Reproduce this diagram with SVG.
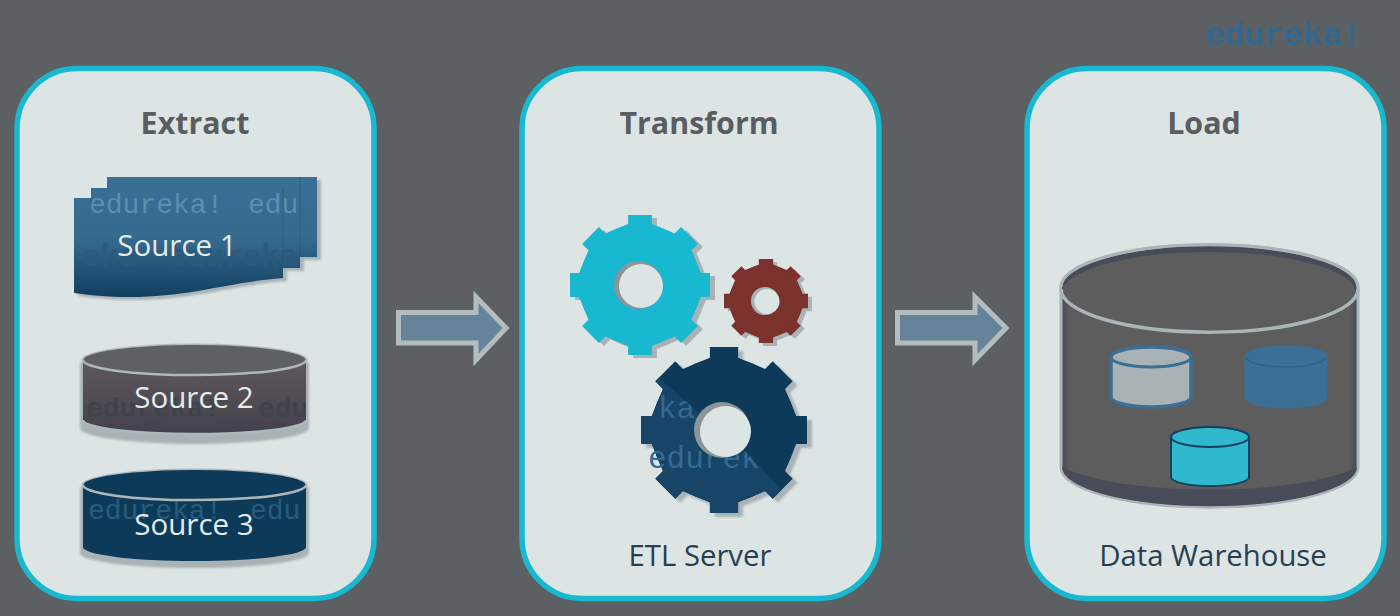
<svg xmlns="http://www.w3.org/2000/svg" width="1400" height="616" viewBox="0 0 1400 616">
<style>
.panel{fill:#dde5e4;stroke:#17b8d0;stroke-width:5.5}
.title{font-family:"Open Sans","Liberation Sans",sans-serif;font-weight:700;font-size:30.4px;fill:#5a5d60;text-anchor:middle}
.src{font-family:"Open Sans","Liberation Sans",sans-serif;font-size:29.5px;fill:#e4ecea;text-anchor:middle}
.cap{font-family:"Open Sans","Liberation Sans",sans-serif;font-size:29.3px;fill:#283f52;text-anchor:middle}
.wm{font-family:"Liberation Mono",monospace;font-size:28px}
.arrow{fill:#668499;stroke:#b3bdbf;stroke-width:5;stroke-linejoin:miter}
.rim{fill:none;stroke:#aeb8ba;stroke-width:2.5}
.shadow{fill:#a9b3b6}
</style>
<defs>
<path id="tooth" d="M-17 -100H17V-87L34 -80H-34L-17 -87Z"/>
<g id="gear">
<circle r="87"/>
<use href="#tooth"/>
<use href="#tooth" transform="rotate(45)"/>
<use href="#tooth" transform="rotate(90)"/>
<use href="#tooth" transform="rotate(135)"/>
<use href="#tooth" transform="rotate(180)"/>
<use href="#tooth" transform="rotate(225)"/>
<use href="#tooth" transform="rotate(270)"/>
<use href="#tooth" transform="rotate(315)"/>
</g>
<linearGradient id="docGrad" x1="0" y1="0" x2="0" y2="1">
<stop offset="0" stop-color="#3a6f96"/><stop offset="0.5" stop-color="#366b90"/><stop offset="1" stop-color="#123f60"/>
</linearGradient>
<linearGradient id="s2Grad" x1="0" y1="0" x2="0" y2="1">
<stop offset="0" stop-color="#5c585b"/><stop offset="0.5" stop-color="#514d53"/><stop offset="1" stop-color="#43404f"/>
</linearGradient>
<linearGradient id="whGrad" x1="0" y1="0" x2="1" y2="0">
<stop offset="0" stop-color="#474a55"/><stop offset="0.03" stop-color="#5d5d5d"/><stop offset="0.97" stop-color="#5d5d5d"/><stop offset="1" stop-color="#474a55"/>
</linearGradient>
<filter id="soft" x="-10%" y="-10%" width="120%" height="120%"><feGaussianBlur stdDeviation="1"/></filter>
<clipPath id="docClip"><path d="M74 198H91V188H107V177H317V257H300V268H283V278C230 282 190 297 130 297C105 297 90 295 74 293Z"/></clipPath>
<clipPath id="s2Clip"><path d="M83 360A111 15 0 0 0 306 360V420A111 14 0 0 1 83 420Z"/></clipPath>
<clipPath id="s3Clip"><path d="M83 485A111 15 0 0 0 306 485V547A111 14 0 0 1 83 547Z"/></clipPath>
<clipPath id="lowerGear"><path d="M652 372L712 424L747 453L782 490L760 530H620V372Z"/></clipPath>
</defs>

<rect width="1400" height="616" fill="#5d6063"/>

<text id="logo" x="1205" y="45" font-family="Liberation Mono, monospace" font-weight="700" font-size="32.5" fill="#33688f">edureka!</text>

<g id="extract">
<rect class="panel" x="17" y="68.500" width="357" height="530" rx="60"/>
<text class="title" x="195" y="134">Extract</text>
</g>
<g id="source1">
<path class="shadow" filter="url(#soft)" transform="translate(4,3)" d="M74 198H91V188H107V177H317V257H300V268H283V278C230 282 190 297 130 297C105 297 90 295 74 293Z"/>
<path fill="url(#docGrad)" d="M74 198H91V188H107V177H317V257H300V268H283V278C230 282 190 297 130 297C105 297 90 295 74 293Z"/>
<g clip-path="url(#docClip)">
<text class="wm" x="89" y="213" fill="#5a90ae">edureka!</text>
<text class="wm" x="248" y="213" fill="#5a90ae">edu</text>
<text class="wm" x="82" y="266" fill="#2c5a7c" style="font-size:31px;font-weight:700">eka</text>
<text class="wm" x="168" y="266" fill="#2c5a7c" style="font-size:31px;font-weight:700">edureka</text>
</g>
<path d="M91 198V212M283 188V268M300 177V257" fill="none" stroke="#1f4f72" stroke-width="1" opacity="0.5"/>
<text class="src" x="177" y="256">Source 1</text>
</g>
<g id="source2">
<path class="shadow" filter="url(#soft)" d="M80 362H309V428A114 16 0 0 1 80 428Z"/>
<ellipse cx="194.500" cy="360" rx="113" ry="16.500" fill="#aeb8ba"/>
<path fill="url(#s2Grad)" d="M83 360A111 15 0 0 0 306 360V420A111 14 0 0 1 83 420Z"/>
<ellipse cx="194.500" cy="360" rx="111" ry="15" fill="#5e6062"/>
<g clip-path="url(#s2Clip)"><text class="wm" x="86" y="417" fill="#3f444c" font-weight="700">edureka!</text><text class="wm" x="258" y="417" fill="#3f444c" font-weight="700">edu</text></g>
<path class="rim" d="M83 360A111 15 0 0 0 306 360"/>
<path class="rim" d="M83 420A111 14 0 0 0 306 420"/>
<text class="src" x="194" y="408">Source 2</text>
</g>
<g id="source3">
<path class="shadow" filter="url(#soft)" d="M80 487H309V553A114 15 0 0 1 80 553Z"/>
<ellipse cx="194.500" cy="485" rx="113" ry="16.500" fill="#aeb8ba"/>
<path fill="#0e3a59" d="M83 485A111 15 0 0 0 306 485V547A111 14 0 0 1 83 547Z"/>
<ellipse cx="194.500" cy="485" rx="111" ry="15" fill="#0e3a59"/>
<g clip-path="url(#s3Clip)"><text class="wm" x="88" y="519" fill="#285c7e">edureka!</text><text class="wm" x="250" y="519" fill="#285c7e">edu</text></g>
<path class="rim" d="M83 485A111 15 0 0 0 306 485"/>
<text class="src" x="194" y="535">Source 3</text>
</g>

<g id="transform">
<rect class="panel" x="522" y="68.500" width="357" height="530" rx="60"/>
<text class="title" x="699" y="134">Transform</text>
<text class="cap" x="700" y="566">ETL Server</text>
</g>
<g id="gearCyan">
<use href="#gear" class="shadow" filter="url(#soft)" transform="translate(645,288) scale(0.7)"/>
<use href="#gear" fill="#17b8d0" transform="translate(640,285) scale(0.7)"/>
<circle cx="638" cy="285" r="24" fill="#8c9497"/>
<circle cx="641" cy="286" r="22" fill="#dde5e4"/>
</g>
<g id="gearRed">
<use href="#gear" class="shadow" filter="url(#soft)" transform="translate(770,304) scale(0.42)"/>
<use href="#gear" fill="#7c322c" transform="translate(766,301) scale(0.42)"/>
<circle cx="765" cy="301" r="14" fill="#a9b3b6"/>
<circle cx="767" cy="301.500" r="12.500" fill="#dde5e4"/>
</g>
<g id="gearNavy">
<use href="#gear" class="shadow" filter="url(#soft)" transform="translate(729,434) scale(0.83)"/>
<use href="#gear" fill="#0e3a59" transform="translate(724,430) scale(0.83)"/>
<g clip-path="url(#lowerGear)">
<use href="#gear" fill="#174567" transform="translate(724,430) scale(0.83)"/>
<text class="wm" x="658" y="418" fill="#356a90" style="font-size:31px">ka</text>
<text class="wm" x="648" y="468" fill="#356a90" style="font-size:31px">edurek</text>
</g>
<circle cx="722" cy="430" r="28" fill="#8c9497"/>
<circle cx="725.500" cy="431.500" r="25.500" fill="#dde5e4"/>
</g>

<g id="load">
<rect class="panel" x="1027" y="68.500" width="357" height="530" rx="60"/>
<text class="title" x="1204" y="134">Load</text>
<text class="cap" x="1213" y="566">Data Warehouse</text>
</g>
<g id="warehouse">
<path fill="url(#whGrad)" stroke="#aab5b8" stroke-width="3" d="M1061 287A148 42 0 0 1 1358 287V467A148 40 0 0 1 1061 467Z"/>
<path fill="#474c58" d="M1062 467A147 39 0 0 0 1357 467C1300 497 1120 497 1062 467Z"/>
<ellipse cx="1209" cy="288" rx="147" ry="42" fill="#474c58"/>
<ellipse cx="1209" cy="293" rx="147" ry="41" fill="#5d5d5d"/>
<path fill="none" stroke="#aab5b8" stroke-width="3.500" d="M1061 289A148 43 0 0 0 1358 289"/>
<path fill="none" stroke="#aab5b8" stroke-width="3" d="M1061 287A148 42 0 0 1 1358 287"/>
</g>
<g id="dbGray">
<path fill="#a9b3b6" stroke="#3a6f96" stroke-width="3.500" d="M1111 357A40 10 0 0 1 1191 357V397A40 10 0 0 1 1111 397Z"/>
<path fill="none" stroke="#3a6f96" stroke-width="3" d="M1111 357A40 10 0 0 0 1191 357"/>
</g>
<g id="dbBlue">
<path fill="#3a6f96" stroke="#3a6f96" stroke-width="3" d="M1246 357A40 10 0 0 1 1326 357V397A40 10 0 0 1 1246 397Z"/>
<path fill="none" stroke="#2f6288" stroke-width="1.500" d="M1246 357A40 10 0 0 0 1326 357"/>
</g>
<g id="dbCyan">
<path fill="#30b8cc" stroke="#12405f" stroke-width="2" d="M1171 437A39 10 0 0 1 1249 437V477A39 9 0 0 1 1171 477Z"/>
<path fill="none" stroke="#12405f" stroke-width="2" d="M1171 437A39 10 0 0 0 1249 437"/>
</g>

<g id="connectors">
<path class="arrow" d="M398.500 312.500H476V297L506 328L476 360V343H398.500Z"/>
<path class="arrow" d="M897.500 312.500H975V297L1006 328L975 360V343H897.500Z"/>
</g>
</svg>
